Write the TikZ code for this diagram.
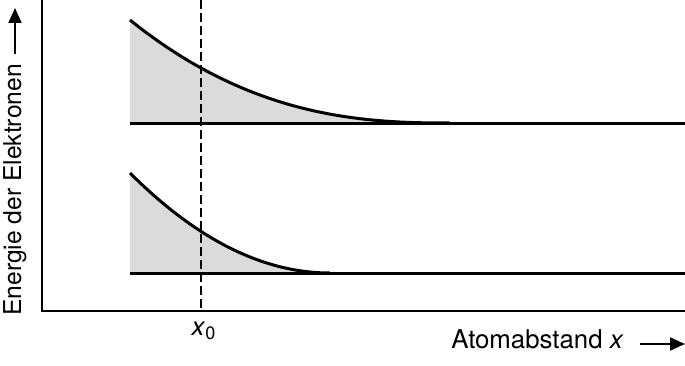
\documentclass[tikz,border=0pt]{standalone}
\usepackage{fontspec}
\setmainfont{TeX Gyre Heros}
\usetikzlibrary{arrows.meta}
\tikzset{
  axis/.style={line width=1pt},
  band/.style={line width=1.5pt},
  curve/.style={line width=1.5pt, line join=round},
  shade/.style={fill=black!14},
  marker/.style={line width=1pt, dash pattern=on 4.5pt off 2pt},
  axlabel/.style={font=\fontsize{12.9}{15}\selectfont, inner sep=0pt},
  axarrow/.style={line width=1pt, -{Triangle[length=7.5pt,width=6.5pt]}}
}
\begin{document}
\begin{tikzpicture}[x=0.5pt,y=0.5pt]
  \useasboundingbox (0,0) rectangle (685,365);
  \coordinate (O) at (42,54);
  \coordinate (ytop) at (42,365);
  \coordinate (xend) at (685,54);
  \coordinate (up0) at (130,242);
  \coordinate (up1) at (685,242);
  \coordinate (lo0) at (130,92);
  \coordinate (lo1) at (685,92);
  \coordinate (dtop) at (201,365);
  \coordinate (dbot) at (201,54);
  \fill[shade] (up0) -- plot[variable=\t,domain=0:1,samples=60]
    ({130+320*\t},{242+103*(1-\t)^2*sqrt(abs(1-\t))}) -- cycle;
  \fill[shade] (lo0) -- plot[variable=\t,domain=0:1,samples=60]
    ({130+200*\t},{92+100*(1-\t)^2}) -- cycle;
  \draw[marker] (dtop) -- (dbot);
  \draw[curve] plot[variable=\t,domain=0:1,samples=60]
    ({130+320*\t},{242+103*(1-\t)^2*sqrt(abs(1-\t))});
  \draw[curve] plot[variable=\t,domain=0:1,samples=60]
    ({130+200*\t},{92+100*(1-\t)^2});
  \draw[band] (up0) -- (up1);
  \draw[band] (lo0) -- (lo1);
  \draw[axis] (ytop) -- (O) -- (xend);
  \node[axlabel] (xnull) at (204,34) {\textit{x}\textsubscript{0}};
  \node[axlabel, font=\fontsize{12.3}{15}\selectfont, rotate=90, anchor=base west] (ylab) at (21,49) {Energie der Elektronen};
  \node[axlabel, anchor=base west] (xlab) at (451,17) {Atomabstand \textit{x}};
  \coordinate (ya) at (15,311);
  \coordinate (yb) at (15,357);
  \coordinate (xa) at (640,21);
  \coordinate (xb) at (685,21);
  \draw[axarrow] (ya) -- (yb);
  \draw[axarrow] (xa) -- (xb);
\end{tikzpicture}
\end{document}
